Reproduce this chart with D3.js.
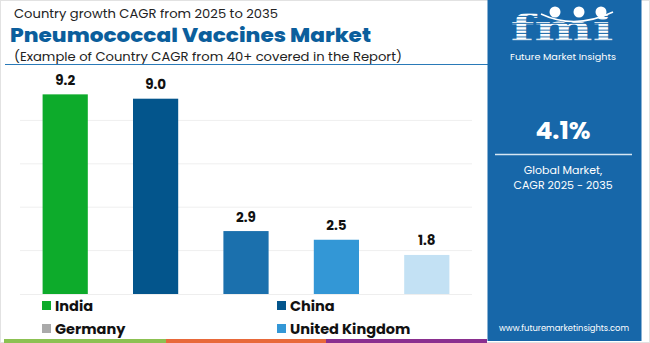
<!DOCTYPE html>
<html><head><meta charset="utf-8">
<script src="https://cdn.jsdelivr.net/npm/d3@7"></script>
<style>html,body{margin:0;padding:0;background:#fff;}svg{display:block;}</style>
</head><body>
<script>
const categories = ["India", "China", "Germany", "United Kingdom", "Other"];
const values = [9.2, 9.0, 2.9, 2.5, 1.8];
const barColors = ["#0dab2b", "#03558c", "#1b70ad", "#3397d6", "#c3e1f4"];
const legendNames = ["India", "China", "Germany", "United Kingdom"];
const legendColors = ["#0dab2b", "#03558c", "#aaaaaa", "#3397d6"];
const gridTicks = [2, 4, 6, 8];

const W = 650, H = 343;
const svg = d3.select("body").append("svg").attr("width", W).attr("height", H);
const F = "Poppins, Inter, 'Noto Sans', sans-serif";

// frame
svg.append("rect").attr("x", 0.5).attr("y", 0.5).attr("width", W - 1).attr("height", H - 1)
  .attr("fill", "#fff").attr("stroke", "#e2e2e2");

// titles
svg.append("text").attr("x", 14).attr("y", 17.5).attr("font-family", F).attr("font-size", 12)
  .attr("fill", "#222").attr("textLength", 264).attr("lengthAdjust", "spacingAndGlyphs")
  .text("Country growth CAGR from 2025 to 2035");
svg.append("text").attr("x", 10).attr("y", 42).attr("font-family", F).attr("font-size", 20)
  .attr("font-weight", 800).attr("fill", "#0b5e9c").attr("textLength", 361).attr("lengthAdjust", "spacingAndGlyphs")
  .text("Pneumococcal Vaccines Market");
svg.append("text").attr("x", 14).attr("y", 60.5).attr("font-family", F).attr("font-size", 12.5)
  .attr("fill", "#222").attr("textLength", 388).attr("lengthAdjust", "spacingAndGlyphs")
  .text("(Example of Country CAGR from 40+ covered in the Report)");
svg.append("line").attr("x1", 5).attr("x2", 488).attr("y1", 64.5).attr("y2", 64.5)
  .attr("stroke", "#2a7ab8").attr("stroke-width", 1);

// scales
const x = d3.scaleBand().domain(categories).range([20, 472]).paddingInner(0.5).paddingOuter(0.25);
const y = d3.scaleLinear().domain([0, 10]).range([294, 77]);

// grid
svg.append("g").selectAll("line").data(gridTicks).join("line")
  .attr("x1", 20).attr("x2", 472).attr("y1", d => y(d)).attr("y2", d => y(d))
  .attr("stroke", "#efefef").attr("stroke-width", 1);
svg.append("line").attr("x1", 20).attr("x2", 472).attr("y1", y(0) + 0.5).attr("y2", y(0) + 0.5)
  .attr("stroke", "#eeeeee");

// bars
svg.append("g").selectAll("rect").data(values).join("rect")
  .attr("x", (d, i) => x(categories[i])).attr("width", x.bandwidth())
  .attr("y", d => y(d)).attr("height", d => y(0) - y(d))
  .attr("fill", (d, i) => barColors[i]);
svg.append("g").selectAll("text").data(values).join("text")
  .attr("x", (d, i) => x(categories[i]) + x.bandwidth() / 2).attr("y", d => y(d) - 9.5)
  .attr("text-anchor", "middle").attr("font-family", F).attr("font-size", 13.5).attr("font-weight", 700)
  .attr("fill", "#111").text(d => d.toFixed(1));

// legend
const lg = svg.append("g");
legendNames.forEach((n, i) => {
  const lx = i % 2 === 0 ? 42 : 277;
  const ly = i < 2 ? 301 : 324;
  lg.append("rect").attr("x", lx).attr("y", ly).attr("width", 9).attr("height", 9).attr("fill", legendColors[i]);
  lg.append("text").attr("x", lx + 13).attr("y", ly + 9.5).attr("font-family", F).attr("font-size", 14.5)
    .attr("font-weight", 700).attr("fill", "#111").text(n);
});

// bottom stripes
[["#8cc152", 4, 166], ["#e8693a", 166, 326], ["#8a2f8f", 326, 487]].forEach(s => {
  svg.append("rect").attr("x", s[1]).attr("y", 339).attr("width", s[2] - s[1]).attr("height", 4).attr("fill", s[0]);
});

// right panel
const px = 487.5, pw = 154;
svg.append("rect").attr("x", px).attr("y", 0).attr("width", pw).attr("height", 341).attr("fill", "#1767a9");
// logo
const defs = svg.append("defs");
const pat = defs.append("pattern").attr("id", "stripes").attr("patternUnits", "userSpaceOnUse")
  .attr("width", 4).attr("height", 3.4);
pat.append("rect").attr("width", 4).attr("height", 3.4).attr("fill", "#fff");
pat.append("rect").attr("y", 2.4).attr("width", 4).attr("height", 1).attr("fill", "#1767a9");
svg.append("text").attr("x", 562).attr("y", 41).attr("text-anchor", "middle")
  .attr("font-family", "'DejaVu Serif', serif").attr("font-weight", 700).attr("font-size", 37)
  .attr("fill", "url(#stripes)").attr("textLength", 103).attr("lengthAdjust", "spacingAndGlyphs").text("fmi");
[[555, 12], [579, 12], [601, 12]].forEach(c => {
  svg.append("circle").attr("cx", c[0]).attr("cy", c[1]).attr("r", 5.5).attr("fill", "#fff");
});
svg.append("path").attr("d", "M 541 14 Q 575 30 613 12").attr("fill", "none").attr("stroke", "#fff").attr("stroke-width", 1.5);
svg.append("text").attr("x", 563).attr("y", 59.5).attr("text-anchor", "middle").attr("font-family", F)
  .attr("font-size", 9.5).attr("fill", "#fff").attr("textLength", 106).attr("lengthAdjust", "spacingAndGlyphs")
  .text("Future Market Insights");

svg.append("text").attr("x", 563).attr("y", 139).attr("text-anchor", "middle").attr("font-family", F)
  .attr("font-size", 25).attr("font-weight", 700).attr("fill", "#fff").text("4.1%");
svg.append("line").attr("x1", 495).attr("x2", 632).attr("y1", 154.5).attr("y2", 154.5)
  .attr("stroke", "#d6e6f3").attr("stroke-width", 1.5);
svg.append("text").attr("x", 563).attr("y", 174).attr("text-anchor", "middle").attr("font-family", F)
  .attr("font-size", 11).attr("fill", "#fff").text("Global Market,");
svg.append("text").attr("x", 563).attr("y", 189).attr("text-anchor", "middle").attr("font-family", F)
  .attr("font-size", 11).attr("fill", "#fff").text("CAGR 2025 - 2035");
svg.append("text").attr("x", 564).attr("y", 331).attr("text-anchor", "middle").attr("font-family", F)
  .attr("font-size", 9).attr("fill", "#fff").attr("textLength", 130).attr("lengthAdjust", "spacingAndGlyphs")
  .text("www.futuremarketinsights.com");
</script>
</body></html>
